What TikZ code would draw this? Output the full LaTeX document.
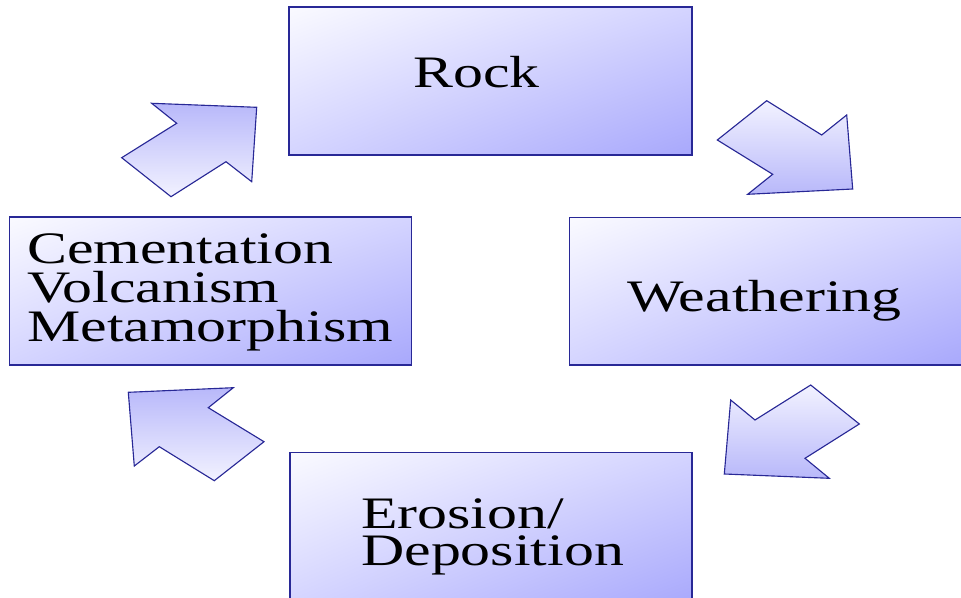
\documentclass[tikz,border=0pt]{standalone}
\usepackage{fontspec}
\setmainfont{Liberation Serif}
\newfontfamily\widefont[FakeStretch=1.33]{Liberation Serif}
\usetikzlibrary{fit,shadings}
\definecolor{edgeblue}{RGB}{40,40,150}
\definecolor{palefill}{RGB}{250,250,255}
\definecolor{midfill}{RGB}{212,212,255}
\definecolor{deepfill}{RGB}{168,168,252}
\definecolor{arrowdeep}{RGB}{184,184,250}
\definecolor{arrowpale}{RGB}{242,242,255}
\tikzset{
  box/.style={draw=edgeblue, line width=0.8pt, inner sep=0pt,
    upper left=palefill, upper right=midfill, lower left=midfill, lower right=deepfill},
  label/.style={font=\widefont\fontsize{32}{27.6}\selectfont, inner sep=0pt, anchor=base west, align=left},
  blockarrow/.style={draw=edgeblue, line width=0.8pt, line join=miter},
  uparrow/.style={blockarrow, top color=arrowdeep, bottom color=arrowpale},
  downarrow/.style={blockarrow, top color=arrowpale, bottom color=arrowdeep},
}
\begin{document}
\begin{tikzpicture}[x=0.025cm, y=-0.025cm]
\path[use as bounding box] (0,0) rectangle (961,598);
\clip (0,0) rectangle (961,598);
% boxes
\node[box, fit={(289,7) (692,155)}] (rock) {};
\node[box, fit={(569.5,217.5) (965,365)}] (weather) {};
\node[box, fit={(290,452.5) (692,605)}] (erosion) {};
\node[box, fit={(9.5,217) (411.5,365)}] (cement) {};
% texts
\node[label] (rocktxt) at (413,87) {Rock};
\node[label] (weathertxt) at (627,311) {Weathering};
\node[label] (ceml1) at (27,263) {Cementation};
\node[label] (ceml2) at (27,302) {Volcanism};
\node[label] (ceml3) at (27,341.5) {Metamorphism};
\node[label] (erol1) at (361,528) {Erosion/};
\node[label] (erol2) at (361,565.5) {Deposition};
% block arrows
\draw[uparrow] (151.7,103.3) -- (256.7,107.3) -- (251.7,181.7) -- (226,161.7)
  -- (171,196.7) -- (121.7,157.7) -- (176.7,123.3) -- cycle;
\draw[downarrow] (766.7,100.7) -- (821.7,135) -- (846.7,115) -- (852.7,189)
  -- (747.7,194.3) -- (772.7,174.3) -- (717.3,140) -- cycle;
\draw[downarrow] (810.7,385) -- (859.3,424) -- (805,458.3) -- (829.3,478.3)
  -- (724.3,474) -- (730.7,400) -- (755,420) -- cycle;
\draw[uparrow] (128.3,392.3) -- (233.3,387.7) -- (208.3,407.7) -- (264,441.7)
  -- (214.3,480.7) -- (159.3,446.7) -- (134.3,466) -- cycle;
\end{tikzpicture}
\end{document}
